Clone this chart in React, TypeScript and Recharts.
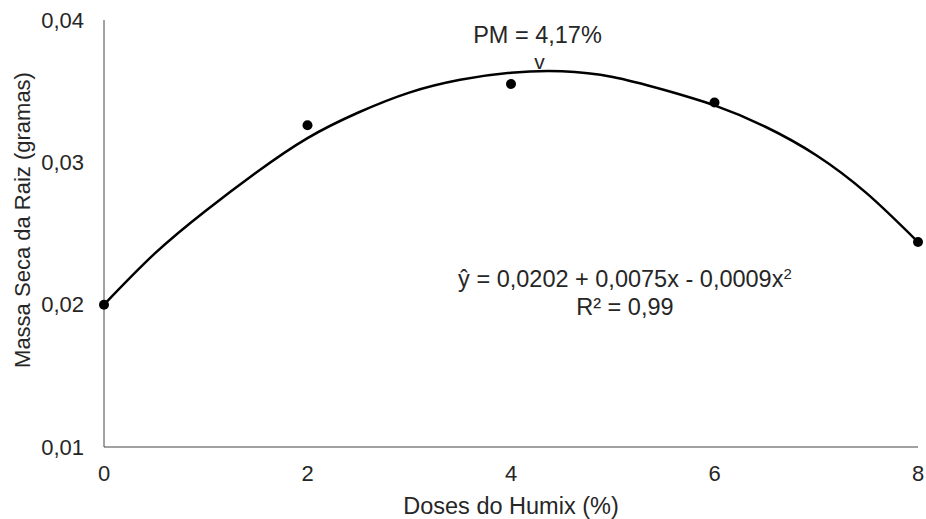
import React from 'react';
import { ComposedChart, Line, Scatter, XAxis, YAxis, ReferenceDot } from 'recharts';

// observed points
const doses = [0, 2, 4, 6, 8];
const massaSeca = [0.02, 0.0326, 0.0355, 0.0342, 0.0244];

// fitted curve
const curveX = [0, 0.5, 1, 1.5, 2, 2.5, 3, 3.5, 4, 4.5, 5, 5.5, 6, 6.5, 7, 7.5, 8];
const curveY = [0.02, 0.0236, 0.0266, 0.0293, 0.0317, 0.0335, 0.0349, 0.0358, 0.0363, 0.0364, 0.036, 0.0351, 0.034, 0.0325, 0.0305, 0.0278, 0.0244];

const xTicks = [0, 2, 4, 6, 8];
const yTicks = [0.01, 0.02, 0.03, 0.04];

const pmX = 4.28;
const pmY = 0.03645;
const eqX = 5.12;
const eqY = 0.0218;

const font = '"Liberation Sans", Arial, sans-serif';
const ink = '#262626';

const points = doses.map((x, i) => ({ x, y: massaSeca[i] }));
const curve = curveX.map((x, i) => ({ x, y: curveY[i] }));

const fmt = (v: number) => v.toFixed(2).replace('.', ',');

const pmLabel = (props: any) => {
  const { viewBox } = props;
  const cx = viewBox.x + viewBox.width / 2;
  const cy = viewBox.y + viewBox.height / 2;
  return (
    <g fontFamily={font} fill={ink}>
      <text x={cx} y={cy - 2} textAnchor="middle" fontSize={21}>v</text>
      <text x={cx - 2} y={cy - 28} textAnchor="middle" fontSize={23.5}>PM = 4,17%</text>
    </g>
  );
};

const eqLabel = (props: any) => {
  const { viewBox } = props;
  const cx = viewBox.x + viewBox.width / 2;
  const cy = viewBox.y + viewBox.height / 2;
  return (
    <g fontFamily={font} fill={ink} fontSize={23.5}>
      <text x={cx} y={cy + 8} textAnchor="middle">
        ŷ = 0,0202 + 0,0075x - 0,0009x<tspan fontSize={15} dy={-8}>2</tspan>
      </text>
      <text x={cx} y={cy + 36} textAnchor="middle">R² = 0,99</text>
    </g>
  );
};

const yLabel = (props: any) => {
  const { viewBox } = props;
  const x = viewBox.x + 22;
  const y = viewBox.y + 200;
  return (
    <text
      x={x}
      y={y}
      transform={`rotate(-90 ${x} ${y})`}
      textAnchor="middle"
      dominantBaseline="central"
      fontFamily={font}
      fontSize={22}
      fill={ink}
    >
      Massa Seca da Raiz (gramas)
    </text>
  );
};

export default function App() {
  return (
    <div style={{ position: 'fixed', left: 0, top: 0, width: 926, height: 519, background: '#fff' }}>
      <ComposedChart width={926} height={519} margin={{ top: 20, right: 8, left: 0, bottom: 0 }}>
        <XAxis
          type="number"
          dataKey="x"
          domain={[0, 8]}
          ticks={xTicks}
          tickLine={false}
          axisLine={{ stroke: '#444' }}
          tick={{ fill: ink, fontSize: 22, fontFamily: font }}
          tickMargin={12}
          height={72}
          label={{ value: 'Doses do Humix (%)', position: 'insideBottom', offset: 5, fill: ink, fontSize: 23.5, fontFamily: font }}
        />
        <YAxis
          type="number"
          dataKey="y"
          domain={[0.01, 0.04]}
          ticks={yTicks}
          tickFormatter={fmt}
          tickLine={false}
          axisLine={{ stroke: '#444' }}
          tick={{ fill: ink, fontSize: 22, fontFamily: font }}
          tickMargin={14}
          width={104}
          label={yLabel}
        />
        <Line
          data={curve}
          dataKey="y"
          type="natural"
          stroke="#000"
          strokeWidth={2.5}
          dot={false}
          activeDot={false}
          isAnimationActive={false}
        />
        <Scatter data={points} dataKey="y" fill="#000" shape={(p: any) => <circle cx={p.cx} cy={p.cy} r={5} fill="#000" />} isAnimationActive={false} />
        <ReferenceDot x={pmX} y={pmY} r={1} fill="none" stroke="none" label={pmLabel} />
        <ReferenceDot x={eqX} y={eqY} r={1} fill="none" stroke="none" label={eqLabel} />
      </ComposedChart>
    </div>
  );
}
